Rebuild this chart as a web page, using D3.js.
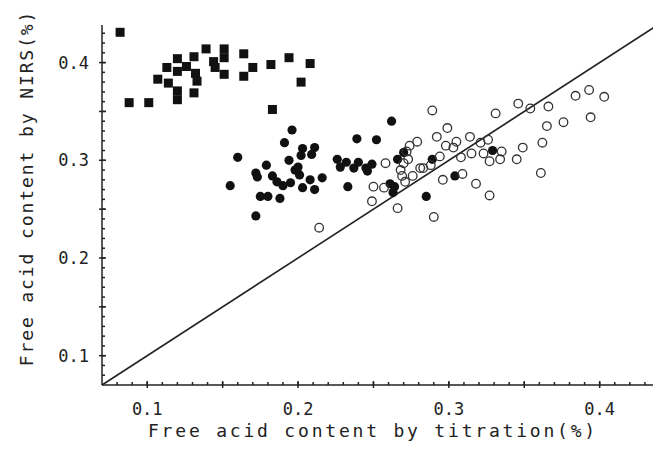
<!DOCTYPE html>
<html>
<head>
<meta charset="utf-8">
<script src="https://cdn.jsdelivr.net/npm/d3@7"></script>
<style>
  body { margin: 0; background: #fff; }
  text { font-family: "DejaVu Sans Mono", monospace; fill: #222; }
</style>
</head>
<body>
<svg></svg>
<script>
// calibration set (squares)
const squareX = [0.082, 0.088, 0.101, 0.107, 0.114, 0.113, 0.120, 0.120, 0.120, 0.120,
    0.126, 0.131, 0.132, 0.133, 0.131, 0.139, 0.144, 0.145, 0.151, 0.151,
    0.151, 0.164, 0.164, 0.170, 0.182, 0.183, 0.194, 0.202, 0.208];
const squareY = [0.431, 0.359, 0.359, 0.383, 0.379, 0.395, 0.404, 0.391, 0.371, 0.362,
    0.396, 0.406, 0.389, 0.381, 0.369, 0.414, 0.401, 0.395, 0.414, 0.405,
    0.388, 0.409, 0.386, 0.395, 0.398, 0.352, 0.405, 0.380, 0.399];

// filled circles
const filledX = [0.155, 0.160, 0.172, 0.173, 0.172, 0.175, 0.180, 0.188, 0.179, 0.183,
    0.186, 0.190, 0.195, 0.191, 0.196, 0.194, 0.198, 0.201, 0.200, 0.203,
    0.211, 0.202, 0.209, 0.203, 0.208, 0.211, 0.216, 0.226, 0.228, 0.232,
    0.237, 0.240, 0.245, 0.249, 0.246, 0.233, 0.239, 0.252, 0.262, 0.266,
    0.270, 0.261, 0.264, 0.263, 0.285, 0.289, 0.304, 0.329];
const filledY = [0.274, 0.303, 0.287, 0.283, 0.243, 0.263, 0.263, 0.261, 0.295, 0.284,
    0.278, 0.274, 0.277, 0.318, 0.331, 0.300, 0.290, 0.285, 0.293, 0.312,
    0.313, 0.305, 0.306, 0.272, 0.280, 0.270, 0.282, 0.301, 0.293, 0.298,
    0.292, 0.298, 0.292, 0.296, 0.289, 0.273, 0.322, 0.321, 0.340, 0.301,
    0.308, 0.276, 0.273, 0.267, 0.263, 0.301, 0.284, 0.310];

// open circles
const openX = [0.214, 0.249, 0.250, 0.257, 0.258, 0.266, 0.268, 0.269, 0.270, 0.271,
    0.272, 0.273, 0.274, 0.276, 0.279, 0.281, 0.283, 0.288, 0.289, 0.290,
    0.292, 0.294, 0.296, 0.298, 0.299, 0.303, 0.305, 0.308, 0.309, 0.314,
    0.315, 0.318, 0.321, 0.323, 0.326, 0.327, 0.327, 0.331, 0.334, 0.335,
    0.345, 0.346, 0.349, 0.354, 0.361, 0.362, 0.365, 0.366, 0.376, 0.384,
    0.393, 0.394, 0.403];
const openY = [0.231, 0.258, 0.273, 0.272, 0.297, 0.251, 0.290, 0.284, 0.297, 0.278,
    0.309, 0.301, 0.315, 0.284, 0.319, 0.292, 0.292, 0.295, 0.351, 0.242,
    0.324, 0.304, 0.280, 0.315, 0.333, 0.313, 0.319, 0.303, 0.286, 0.324,
    0.307, 0.276, 0.318, 0.307, 0.321, 0.299, 0.264, 0.348, 0.301, 0.309,
    0.301, 0.358, 0.313, 0.353, 0.287, 0.318, 0.335, 0.355, 0.339, 0.366,
    0.372, 0.344, 0.365];

const xTickLabels = [0.1, 0.2, 0.3, 0.4];
const yTickLabels = [0.1, 0.2, 0.3, 0.4];

const width = 653;
const height = 450;

const svg = d3.select('svg')
    .attr('width', width)
    .attr('height', height);

const x = d3.scaleLinear().domain([0.07, 0.44]).range([102, 660]);
const y = d3.scaleLinear().domain([0.07, 0.44]).range([385, 23.5]);

const minor = d3.range(8, 44).map(function(i) { return i / 100 });
const major = d3.range(2, 9).map(function(i) { return i * 0.05 });

// y = x reference line
svg.append('line')
    .attr('x1', x(0.07)).attr('y1', y(0.07))
    .attr('x2', x(0.44)).attr('y2', y(0.44))
    .style('stroke', '#222')
    .style('stroke-width', 1.6);

// axes
const gx = svg.append('g').attr('transform', `translate(0, ${y(0.07)})`);
gx.append('line')
    .attr('x1', x(0.07)).attr('x2', width)
    .style('stroke', '#222').style('stroke-width', 1.5);
gx.selectAll('.minor')
    .data(minor)
    .enter().append('line')
    .attr('x1', function(d) { return x(d) }).attr('x2', function(d) { return x(d) })
    .attr('y1', 0).attr('y2', -3)
    .style('stroke', '#222').style('stroke-width', 1.5);
gx.selectAll('.major')
    .data(major)
    .enter().append('line')
    .attr('x1', function(d) { return x(d) }).attr('x2', function(d) { return x(d) })
    .attr('y1', 3).attr('y2', -4)
    .style('stroke', '#222').style('stroke-width', 1.5);
gx.selectAll('text')
    .data(xTickLabels)
    .enter().append('text')
    .attr('x', function(d) { return x(d) })
    .attr('y', 30)
    .attr('text-anchor', 'middle')
    .style('font-size', '17px')
    .text(function(d) { return d3.format('.1f')(d) });

const gy = svg.append('g').attr('transform', `translate(${x(0.07)}, 0)`);
gy.append('line')
    .attr('y1', y(0.07)).attr('y2', 25)
    .style('stroke', '#222').style('stroke-width', 1.5);
gy.selectAll('.minor')
    .data(minor)
    .enter().append('line')
    .attr('y1', function(d) { return y(d) }).attr('y2', function(d) { return y(d) })
    .attr('x1', 0).attr('x2', 3)
    .style('stroke', '#222').style('stroke-width', 1.5);
gy.selectAll('.major')
    .data(major)
    .enter().append('line')
    .attr('y1', function(d) { return y(d) }).attr('y2', function(d) { return y(d) })
    .attr('x1', -3).attr('x2', 4)
    .style('stroke', '#222').style('stroke-width', 1.5);
gy.selectAll('text')
    .data(yTickLabels)
    .enter().append('text')
    .attr('x', -13)
    .attr('y', function(d) { return y(d) + 6 })
    .attr('text-anchor', 'end')
    .style('font-size', '17px')
    .text(function(d) { return d3.format('.1f')(d) });

// axis titles
svg.append('text')
    .attr('x', 373)
    .attr('y', 437)
    .attr('text-anchor', 'middle')
    .style('font-size', '18px')
    .style('letter-spacing', '2.8px')
    .text('Free acid content by titration(%)');

svg.append('text')
    .attr('transform', 'translate(33, 188)rotate(-90)')
    .attr('text-anchor', 'middle')
    .style('font-size', '18px')
    .style('letter-spacing', '1.9px')
    .text('Free acid content by NIRS(%)');

// points
svg.append('g').selectAll('rect')
    .data(squareX)
    .enter().append('rect')
    .attr('x', function(d) { return x(d) - 4.5 })
    .attr('y', function(d, i) { return y(squareY[i]) - 4.5 })
    .attr('width', 9)
    .attr('height', 9)
    .style('fill', '#111');

svg.append('g').selectAll('circle')
    .data(filledX)
    .enter().append('circle')
    .attr('cx', function(d) { return x(d) })
    .attr('cy', function(d, i) { return y(filledY[i]) })
    .attr('r', 4.6)
    .style('fill', '#111');

svg.append('g').selectAll('circle')
    .data(openX)
    .enter().append('circle')
    .attr('cx', function(d) { return x(d) })
    .attr('cy', function(d, i) { return y(openY[i]) })
    .attr('r', 4.3)
    .style('fill', 'none')
    .style('stroke', '#333')
    .style('stroke-width', 1.3);
</script>
</body>
</html>
